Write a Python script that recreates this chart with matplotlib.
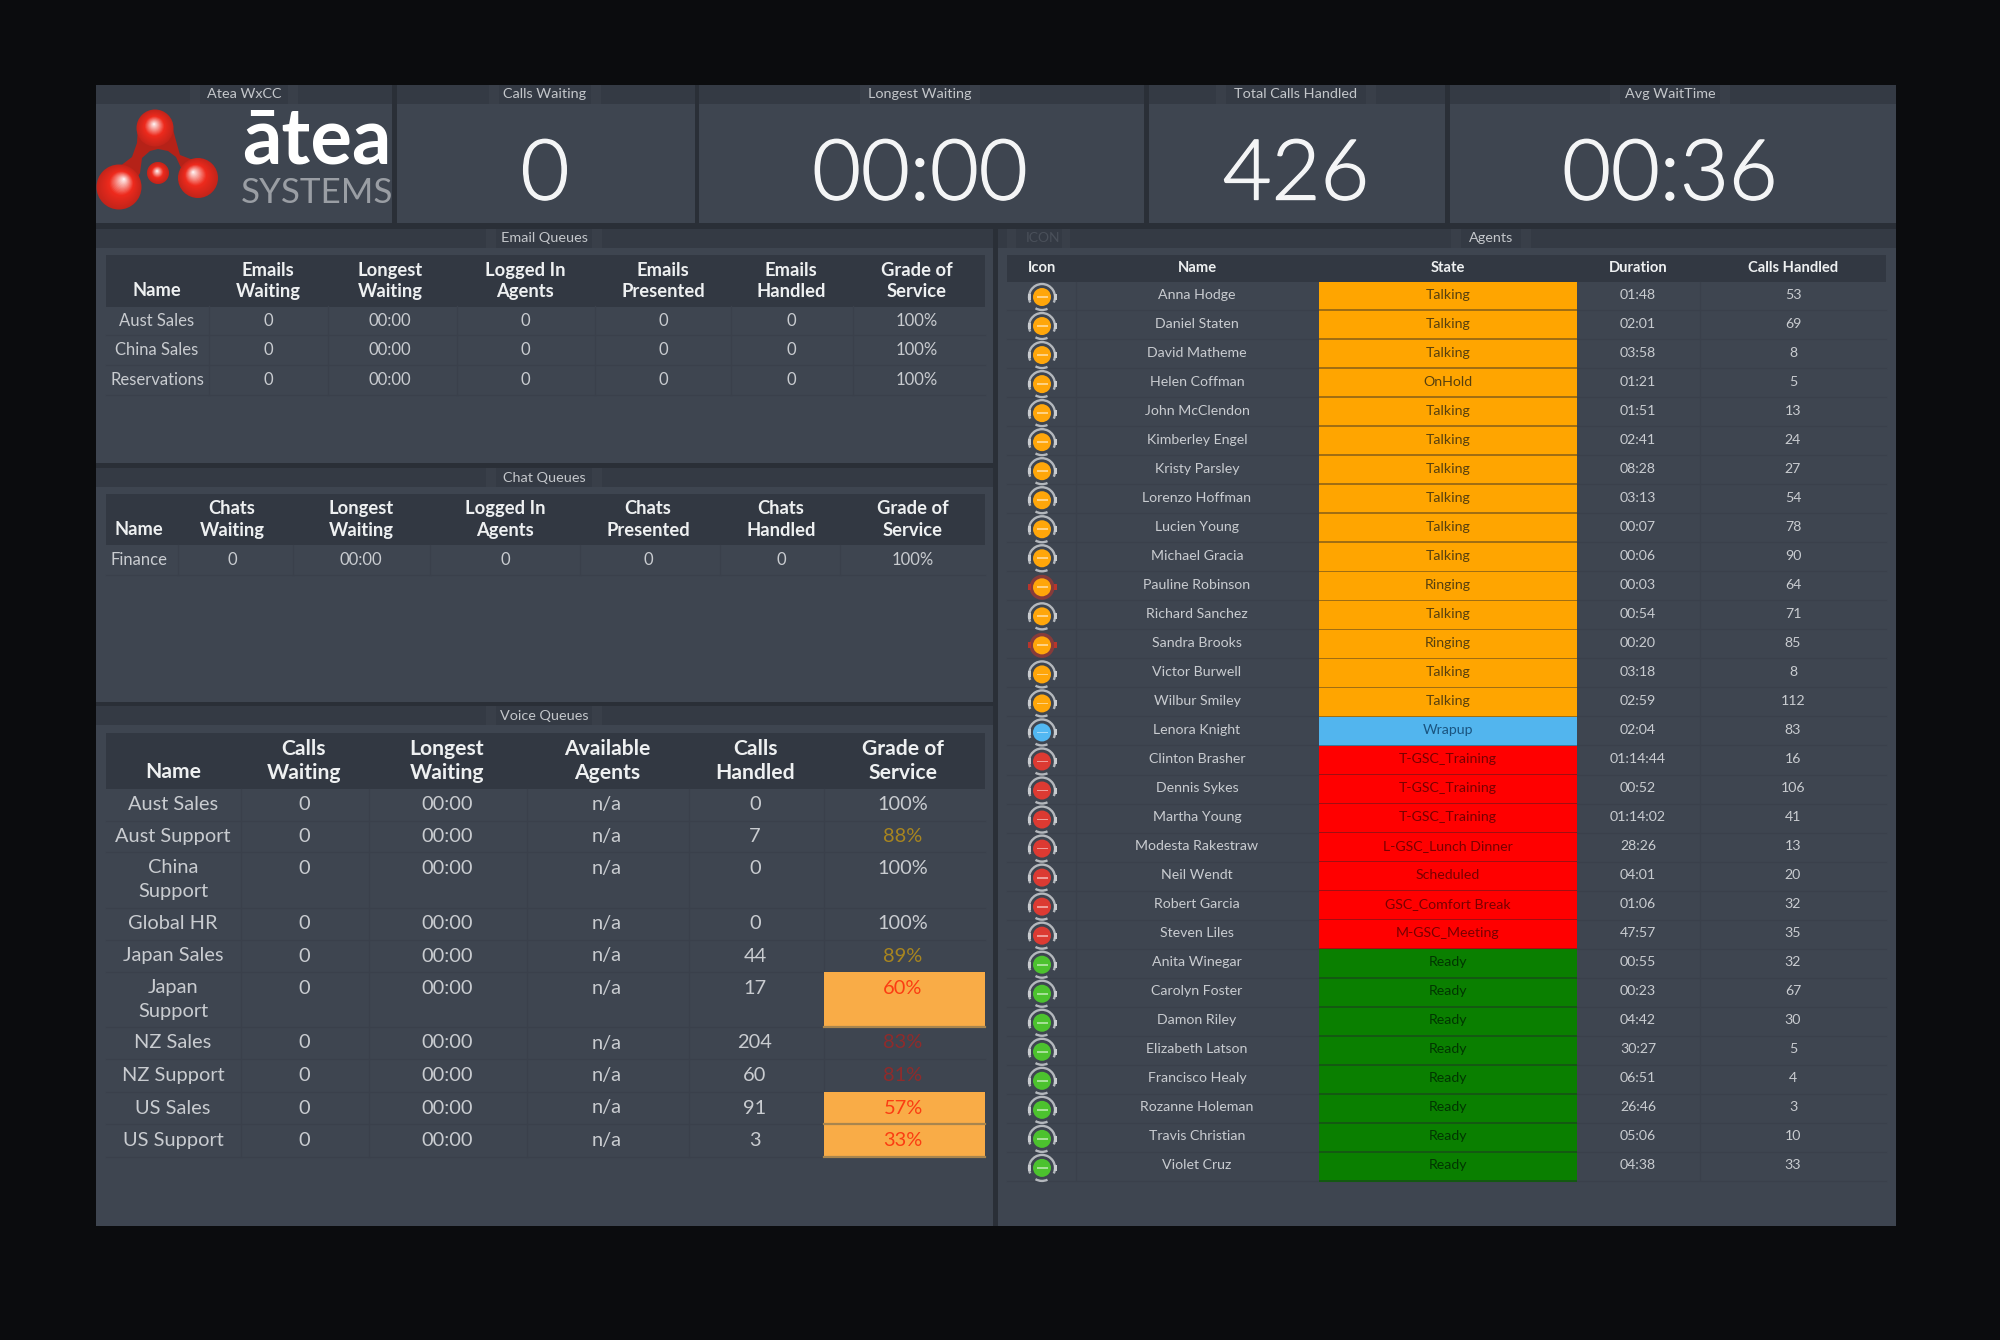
import matplotlib
matplotlib.use("Agg")
import matplotlib.pyplot as plt
import matplotlib.patheffects as pe
from matplotlib.patches import Rectangle, Circle, Polygon, Arc
from matplotlib.colors import to_rgb

# ---------- data ----------
kpi_titles = ["Calls Waiting", "Longest Waiting", "Total Calls Handled", "Avg WaitTime"]
kpi_values = ["0", "00:00", "426", "00:36"]

email_headers = ["Name", "Emails\nWaiting", "Longest\nWaiting", "Logged In\nAgents",
                 "Emails\nPresented", "Emails\nHandled", "Grade of\nService"]
email_names = ["Aust Sales", "China Sales", "Reservations"]
email_waiting = ["0", "0", "0"]
email_longest = ["00:00", "00:00", "00:00"]
email_logged = ["0", "0", "0"]
email_presented = ["0", "0", "0"]
email_handled = ["0", "0", "0"]
email_grade = ["100%", "100%", "100%"]

chat_headers = ["Name", "Chats\nWaiting", "Longest\nWaiting", "Logged In\nAgents",
                "Chats\nPresented", "Chats\nHandled", "Grade of\nService"]
chat_row = ["Finance", "0", "00:00", "0", "0", "0", "100%"]

voice_headers = ["Name", "Calls\nWaiting", "Longest\nWaiting", "Available\nAgents",
                 "Calls\nHandled", "Grade of\nService"]
voice_names = ["Aust Sales", "Aust Support", "China\nSupport", "Global HR", "Japan Sales",
               "Japan\nSupport", "NZ Sales", "NZ Support", "US Sales", "US Support"]
voice_waiting = ["0"] * 10
voice_longest = ["00:00"] * 10
voice_available = ["n/a"] * 10
voice_handled = ["0", "7", "0", "0", "44", "17", "204", "60", "91", "3"]
voice_grade = [100, 88, 100, 100, 89, 60, 83, 81, 57, 33]

agent_headers = ["Icon", "Name", "State", "Duration", "Calls Handled"]
agent_names = ["Anna Hodge", "Daniel Staten", "David Matheme", "Helen Coffman", "John McClendon",
               "Kimberley Engel", "Kristy Parsley", "Lorenzo Hoffman", "Lucien Young", "Michael Gracia",
               "Pauline Robinson", "Richard Sanchez", "Sandra Brooks", "Victor Burwell", "Wilbur Smiley",
               "Lenora Knight", "Clinton Brasher", "Dennis Sykes", "Martha Young", "Modesta Rakestraw",
               "Neil Wendt", "Robert Garcia", "Steven Liles", "Anita Winegar", "Carolyn Foster",
               "Damon Riley", "Elizabeth Latson", "Francisco Healy", "Rozanne Holeman", "Travis Christian",
               "Violet Cruz"]
agent_states = ["Talking", "Talking", "Talking", "OnHold", "Talking", "Talking", "Talking", "Talking",
                "Talking", "Talking", "Ringing", "Talking", "Ringing", "Talking", "Talking", "Wrapup",
                "T-GSC_Training", "T-GSC_Training", "T-GSC_Training", "L-GSC_Lunch Dinner", "Scheduled",
                "GSC_Comfort Break", "M-GSC_Meeting", "Ready", "Ready", "Ready", "Ready", "Ready",
                "Ready", "Ready", "Ready"]
agent_durations = ["01:48", "02:01", "03:58", "01:21", "01:51", "02:41", "08:28", "03:13", "00:07", "00:06",
                   "00:03", "00:54", "00:20", "03:18", "02:59", "02:04", "01:14:44", "00:52", "01:14:02",
                   "28:26", "04:01", "01:06", "47:57", "00:55", "00:23", "04:42", "30:27", "06:51", "26:46",
                   "05:06", "04:38"]
agent_calls = [53, 69, 8, 5, 13, 24, 27, 54, 78, 90, 64, 71, 85, 8, 112, 83, 16, 106, 41, 13, 20, 32, 35,
               32, 67, 30, 5, 4, 3, 10, 33]

# ---------- palette ----------
BG = "#0b0c0e"; PANEL = "#3e4550"; BAND = "#343a44"; TAB = "#393f49"; GAP = "#2a2f37"
HEAD = "#323842"; GRID = "#3a404b"; BODY = "#c9ccd0"; TITLE = "#c4c7cb"
ORANGE_CELL = "#f9ac47"
STATE_COL = {"orange": "#ffa500", "blue": "#52b5ee", "red": "#ff0000", "green": "#0a7f00"}
STATE_TXT = {"orange": "#57400f", "blue": "#1a5480", "red": "#780000", "green": "#013601"}
ICON_COL = {"orange": "#ffa60a", "blue": "#52b8f2", "red": "#dc3a32", "green": "#4cc22e"}
FONT = "Lato"

fig = plt.figure(figsize=(10, 6.7), dpi=200, facecolor=BG)
ax = fig.add_axes([0, 0, 1, 1])
ax.set_xlim(0, 2000); ax.set_ylim(1340, 0); ax.axis("off")


def rect(x0, y0, x1, y1, c, z=1, **k):
    ax.add_patch(Rectangle((x0, y0), x1 - x0, y1 - y0, fc=c, ec="none", zorder=z, **k))


def txt(x, y, s, size, color=BODY, weight="normal", z=6, **k):
    return ax.text(x, y, s, fontsize=size, color=color, weight=weight, family=FONT, ha="center",
                   va="center", zorder=z, linespacing=k.pop("ls", 1.15), **k)


def panel(x0, y0, x1, y1, title, tx, tw=54, band=19):
    rect(x0, y0, x1, y1, PANEL)
    rect(x0, y0, x1, y0 + band, BAND, 2)
    rect(tx - tw - 10, y0, tx + tw + 10, y0 + band, TAB, 2)
    rect(tx - tw, y0, tx + tw, y0 + band, BAND, 2)
    txt(tx, y0 + band / 2, title, 5.2, TITLE)


rect(96, 85, 1896, 1226, GAP, 0)

# ---------- KPI row ----------
panel(96, 85, 392, 223, "Atea WxCC", 244, 44)
kx = [(397, 694.5), (698.5, 1143.5), (1149, 1445), (1449.5, 1896)]
kc = [545, 920, 1296, 1670]
tw = [46, 50, 70, 50]
for (a, b), c, t, v, w in zip(kx, kc, kpi_titles, kpi_values, tw):
    panel(a, 85, b, 223, t, c, w)
    ax.text(c, 176, v, fontsize=30.3, color="#f4f5f6", family=FONT, weight=300, ha="center",
            va="center", zorder=6,
            path_effects=[pe.withStroke(linewidth=0.5, foreground="#f4f5f6")])

# ---------- logo ----------
NECK = "#b52218"
ax.add_patch(Polygon([(138, 125), (137, 143), (132, 157), (115, 170), (125, 200), (140, 173), (142, 158),
                      (150, 151), (158, 149), (168, 151), (176, 157), (182, 170), (200, 170), (193, 160),
                      (180, 155), (175, 137), (172, 125)],
                     fc=NECK, ec="none", zorder=3))
for cx, cy, r, hx, hy in [(155, 128, 18.5, 154, 124), (119, 187, 22.5, 124, 179),
                          (198, 178, 20, 193, 172), (158, 173, 11, 157, 171)]:
    n = 24
    for i in range(n):
        f = i / (n - 1)
        rad = r * (1 - f)
        xx = cx + (hx - cx) * f
        yy = cy + (hy - cy) * f
        if f < 0.45:
            t = f / 0.45
            col = tuple((1 - t) * a + t * b for a, b in zip(to_rgb("#c4241a"), to_rgb("#ee2a1c")))
        else:
            t = (f - 0.45) / 0.55
            col = tuple((1 - t) * a + t * b for a, b in zip(to_rgb("#ee2a1c"), to_rgb("#ffffff")))
        ax.add_patch(Circle((xx, yy), max(rad, 0.4), fc=col, ec="none", zorder=4))
ax.text(317, 163, "\u0101tea", fontsize=28, color="white", weight="bold", family=FONT, ha="center",
        va="baseline", zorder=6)
ax.text(317, 203, "SYSTEMS", fontsize=12.6, color="#9a9ea4", family=FONT, ha="center", va="baseline", zorder=6)


# ---------- generic queue table ----------
def table(x_left, x_right, hy0, hy1, seps, centers, headers, rows, bounds, hsize, bsize, hls, hspace, grade=None):
    rect(x_left, hy0, x_right, hy1, HEAD, 2)
    hc = (hy0 + hy1) / 2
    for c, h in zip(centers, headers):
        if "\n" not in h:
            txt(c, hc + hspace / 2, h, hsize, "#eef0f1", "bold")
        else:
            txt(c, hc, h, hsize, "#eef0f1", "bold", ls=hls)
    for y in bounds[1:]:
        ax.plot([x_left, x_right], [y, y], color=GRID, lw=0.5, zorder=3)
    for s in seps:
        ax.plot([s, s], [bounds[0], bounds[-1]], color=GRID, lw=0.5, zorder=3)
    for i, row in enumerate(rows):
        top, bot = bounds[i], bounds[i + 1]
        two = (bot - top) > 40
        for j, (c, v) in enumerate(zip(centers, row)):
            color = BODY
            if grade is not None and j == len(row) - 1:
                g = grade[i]
                if g < 80:
                    rect(seps[-1], top, x_right, bot, ORANGE_CELL, 4)
                    ax.plot([seps[-1], x_right], [bot, bot], color="#a8854e", lw=0.8, zorder=5)
                    color = "#fb3d12"
                elif g < 85:
                    color = "#8f2b2b"
                elif g < 90:
                    color = "#a8851f"
            yy = (top + bot) / 2
            if two and "\n" not in str(v):
                yy = top + 16.5
            txt(c, yy, v, bsize, color, ls=1.5)


# Email
panel(96, 229, 992.5, 463, "Email Queues", 544, 48)
table(106, 985, 255, 307, [209, 328, 457, 595, 731, 853], [157, 268, 390, 525, 663, 791, 917], email_headers,
      list(zip(email_names, email_waiting, email_longest, email_logged, email_presented, email_handled, email_grade)),
      [306, 335, 365, 395], 6.6, 6.0, 1.34, 20)
# Chat
panel(96, 468, 992.5, 702, "Chat Queues", 544, 48)
table(106, 985, 494, 545, [178, 293, 430, 580, 720, 840], [139, 232, 361, 505, 648, 781, 913], chat_headers,
      [chat_row], [545, 575], 6.6, 6.0, 1.34, 20)
# Voice
panel(96, 706, 992.5, 1226, "Voice Queues", 544, 48)
table(106, 985, 733, 789, [241, 369, 527, 689, 824], [173, 304, 447, 607, 755, 903], voice_headers,
      list(zip(voice_names, voice_waiting, voice_longest, voice_available, voice_handled,
               [f"{g}%" for g in voice_grade])),
      [789, 820.5, 852, 907.5, 940, 972, 1027, 1059, 1092, 1124, 1156.5], 7.6, 7.2, 1.27, 23, grade=voice_grade)

# ---------- agents ----------
panel(998, 229, 1896, 1226, "Agents", 1491, 30)
rect(1007, 229, 1070, 248, TAB, 2)
rect(1016, 229, 1062, 248, BAND, 2)
txt(1043, 238, "ICON", 5.0, "#4a505a", z=5)
rect(1007, 255, 1886, 282, HEAD, 2)
acol = [1042, 1197, 1448, 1638, 1793]
for c, h in zip(acol, agent_headers):
    txt(c, 268.5, h, 5.3, "#eef0f1", "bold")
for s in [1076, 1700]:
    ax.plot([s, s], [282, 1180], color=GRID, lw=0.5, zorder=3)


def kind(s):
    if s in ("Talking", "OnHold", "Ringing"):
        return "orange"
    if s == "Wrapup":
        return "blue"
    if s == "Ready":
        return "green"
    return "red"


RH = 29.03
for i, (n, s, d, k) in enumerate(zip(agent_names, agent_states, agent_durations, agent_calls)):
    top = 281 + i * RH
    cy = top + RH / 2 - 1
    ax.plot([1007, 1886], [top + RH, top + RH], color=GRID, lw=0.5, zorder=3)
    kd = kind(s)
    base = to_rgb(STATE_COL[kd])
    rect(1319, top + 0.8, 1577, top + RH + 0.8, STATE_COL[kd], 4)
    dark = tuple(c * 0.72 + 0.28 * p for c, p in zip(base, to_rgb(PANEL)))
    dark = tuple(c * 0.8 for c in dark)
    rect(1319, top + RH - 0.8, 1577, top + RH + 0.8, dark, 5)
    txt(acol[1], cy, n, 5.1)
    txt(acol[2], cy, s, 5.1, STATE_TXT[kd])
    txt(acol[3], cy, d, 5.1)
    txt(acol[4], cy, str(k), 5.1)
    # icon
    ix, iy = acol[0], cy + 2.5
    if s == "Ringing":
        ax.add_patch(Circle((ix, iy), 12.5, fc="#b8352c", ec="none", alpha=0.6, zorder=4))
        for sx in (-1, 1):
            rect(ix + sx * 13 - 1.5, iy - 3, ix + sx * 13 + 1.5, iy + 3, "#b8352c", 5)
    else:
        ring = "#b4b8bd"
        ax.add_patch(Arc((ix, iy), 26, 26, theta1=155, theta2=385, ec=ring, lw=0.85, zorder=4))
        ax.add_patch(Arc((ix, iy), 26, 26, theta1=65, theta2=120, ec=ring, lw=0.85, zorder=4))
        for sx in (-1, 1):
            rect(ix + sx * 13 - 1.5, iy - 3, ix + sx * 13 + 1.5, iy + 3, "#c9ccd0", 5)
    ax.add_patch(Circle((ix, iy), 9, fc=ICON_COL[kd], ec="none", zorder=6))
    rect(ix - 5.5, iy - 0.9, ix + 5.5, iy + 0.9, "#ffffff", 7, alpha=0.5)

fig.savefig("out.png", dpi=200, facecolor=BG)
